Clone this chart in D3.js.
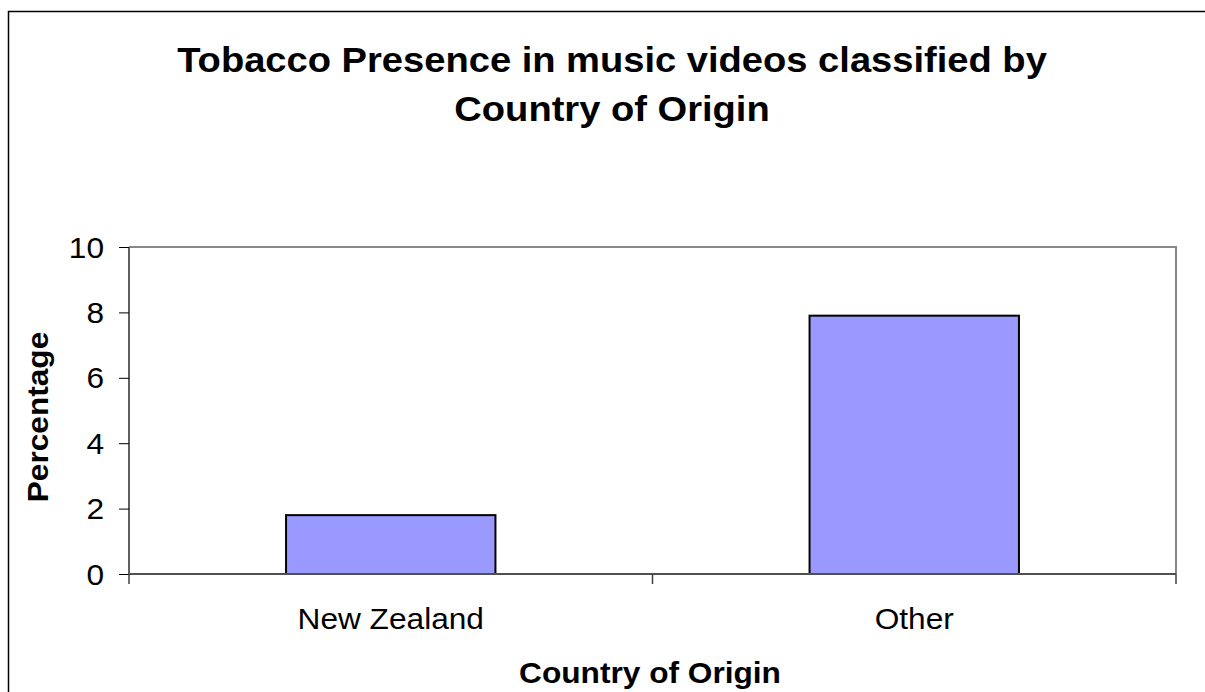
<!DOCTYPE html>
<html>
<head>
  <meta charset="utf-8">
  <title>Tobacco Presence by Country of Origin</title>
  <script src="https://d3js.org/d3.v7.min.js"></script>
  <style>
    body { margin: 0; background: #fff; }
    svg { display: block; font-family: Arial, "Liberation Sans", sans-serif; }
  </style>
</head>
<body>
  <svg width="1205" height="692"></svg>

  <script>
    // data
    const categories = ["New Zealand", "Other"];
    const percentages = [1.8, 7.9];
    const yTicks = [0, 2, 4, 6, 8, 10];
    const titleLines = ["Tobacco Presence in music videos classified by", "Country of Origin"];

    const svg = d3.select("svg");
    const stretch = 1.08;  // text in the picture is a bit wider than plain Arial

    const plot = { left: 129, right: 1176, top: 247, bottom: 574 };

    // outer frame (runs off the right and bottom edges)
    svg.append("rect")
      .attr("x", 8.5).attr("y", 11.5)
      .attr("width", 1210).attr("height", 700)
      .attr("fill", "#fff").attr("stroke", "#000").attr("stroke-width", 1.5);

    const x = d3.scaleBand()
      .domain(categories)
      .range([plot.left, plot.right])
      .paddingInner(0.6)
      .paddingOuter(0.3);

    const y = d3.scaleLinear()
      .domain([0, 10])
      .range([plot.bottom, plot.top]);

    // plot border top & right
    svg.append("path")
      .attr("d", `M${plot.left},${plot.top}H${plot.right}V${plot.bottom}`)
      .attr("fill", "none").attr("stroke", "#888").attr("stroke-width", 2);

    // bars
    svg.selectAll("rect.bar")
      .data(categories)
      .join("rect")
      .attr("class", "bar")
      .attr("x", d => x(d))
      .attr("width", x.bandwidth())
      .attr("y", (d, i) => y(percentages[i]))
      .attr("height", (d, i) => y(0) - y(percentages[i]))
      .attr("fill", "#9999ff")
      .attr("stroke", "#000")
      .attr("stroke-width", 2);

    // y axis
    const yAxis = svg.append("g")
      .attr("transform", `translate(${plot.left},0)`)
      .call(d3.axisLeft(y).tickValues(yTicks).tickSize(10).tickFormat(""));
    yAxis.select(".domain").attr("stroke", "#606060").attr("stroke-width", 2)
      .attr("d", `M0,${plot.top}V${plot.bottom}`);
    yAxis.selectAll(".tick line").attr("stroke", "#000");

    yTicks.forEach(t => {
      svg.append("text")
        .attr("transform", `translate(104,${y(t)}) scale(${stretch},1)`)
        .attr("dy", "0.36em")
        .attr("text-anchor", "end")
        .attr("font-size", 29.3)
        .text(t);
    });

    // x axis: ticks sit on the category boundaries
    const step = x.step();
    const bounds = [plot.left].concat(categories.map(c => x(c) + x.bandwidth() / 2 + step / 2));
    svg.append("line")
      .attr("x1", plot.left).attr("x2", plot.right)
      .attr("y1", plot.bottom).attr("y2", plot.bottom)
      .attr("stroke", "#505050").attr("stroke-width", 2);
    svg.selectAll("line.xtick")
      .data(bounds)
      .join("line")
      .attr("class", "xtick")
      .attr("x1", d => d).attr("x2", d => d)
      .attr("y1", plot.bottom).attr("y2", plot.bottom + 10)
      .attr("stroke", "#404040").attr("stroke-width", 1.5);

    categories.forEach(c => {
      svg.append("text")
        .attr("transform", `translate(${x(c) + x.bandwidth() / 2},629) scale(${stretch},1)`)
        .attr("text-anchor", "middle")
        .attr("font-size", 29.3)
        .text(c);
    });

    // titles
    titleLines.forEach((line, i) => {
      svg.append("text")
        .attr("transform", `translate(612,${72 + i * 49}) scale(${stretch},1)`)
        .attr("text-anchor", "middle")
        .attr("font-size", 35.3)
        .attr("font-weight", "bold")
        .text(line);
    });

    svg.append("text")
      .attr("transform", `translate(650,683) scale(${stretch},1)`)
      .attr("text-anchor", "middle")
      .attr("font-size", 29.3)
      .attr("font-weight", "bold")
      .text("Country of Origin");

    svg.append("text")
      .attr("transform", `translate(48,417) rotate(-90) scale(${stretch},1)`)
      .attr("text-anchor", "middle")
      .attr("font-size", 29.3)
      .attr("font-weight", "bold")
      .text("Percentage");
  </script>
</body>
</html>
